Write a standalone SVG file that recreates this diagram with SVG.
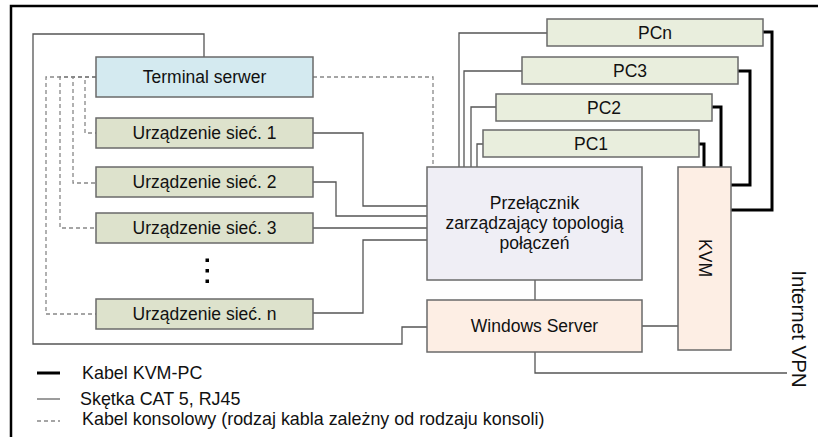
<svg xmlns="http://www.w3.org/2000/svg" width="818" height="437" viewBox="0 0 818 437">
<style>
text{font-family:"Liberation Sans",Arial,sans-serif;font-size:17.5px;fill:#111}
.c{text-anchor:middle}
.lg{font-size:17.9px}
.box{stroke:#6a6a6a;stroke-width:1.5}
.ts{fill:#d4eaf0}
.dev{fill:#dde2cc}
.pc{fill:#e9eedd}
.sw{fill:#efeef5}
.pe{fill:#fdeee4}
.thin{fill:none;stroke:#555;stroke-width:1.3}
.dash{fill:none;stroke:#888;stroke-width:1.3;stroke-dasharray:4,3}
.thick{fill:none;stroke:#000;stroke-width:3}
</style>
<rect width="818" height="437" fill="#fff"/>
<path d="M11,437 V6 H818" fill="none" stroke="#000" stroke-width="2.5"/>
<g id="connectors">
<path class="thin" d="M204,57 V34 H33 V344 H402 V327 H427"/>
<path class="thin" d="M313,133 H363 V206 H427"/>
<path class="thin" d="M313,182 H336 V216 H427"/>
<path class="thin" d="M313,228 H427"/>
<path class="thin" d="M313,313 H363 V240 H427"/>
<path class="thin" d="M459,167 V33 H547"/>
<path class="thin" d="M464,167 V71 H522"/>
<path class="thin" d="M471,167 V107 H496"/>
<path class="thin" d="M477,167 V144 H483"/>
<path class="thin" d="M535,280 V300"/>
<path class="thin" d="M535,352 V373 H787"/>
<path class="thin" d="M642,326 H678"/>
<path class="dash" d="M313,77 H433 V167"/>
<path class="dash" d="M96,77 H85 V133 H96"/>
<path class="dash" d="M96,77 H73 V183 H96"/>
<path class="dash" d="M96,77 H60 V228 H96"/>
<path class="dash" d="M96,77 H46 V314 H96"/>
<path class="thick" d="M699,144 H704 V167"/>
<path class="thick" d="M712,107 H721 V167"/>
<path class="thick" d="M738,71 H750 V185 H731"/>
<path class="thick" d="M763,32 H772 V210 H731"/>
</g>
<g id="terminal-serwer"><rect class="box ts" x="96" y="57" width="217" height="40"/><text class="c" x="204.5" y="83">Terminal serwer</text></g>
<g id="urzadzenie-1"><rect class="box dev" x="96" y="118" width="217" height="30"/><text class="c" x="204.5" y="139">Urządzenie sieć. 1</text></g>
<g id="urzadzenie-2"><rect class="box dev" x="96" y="167" width="217" height="30"/><text class="c" x="204.5" y="188">Urządzenie sieć. 2</text></g>
<g id="urzadzenie-3"><rect class="box dev" x="96" y="213" width="217" height="30"/><text class="c" x="204.5" y="234">Urządzenie sieć. 3</text></g>
<g id="dots" fill="#000"><rect x="205.5" y="258.5" width="3.5" height="3.5"/><rect x="205.5" y="269" width="3.5" height="3.5"/><rect x="205.5" y="279.5" width="3.5" height="3.5"/></g>
<g id="urzadzenie-n"><rect class="box dev" x="96" y="299" width="217" height="30"/><text class="c" x="204.5" y="320">Urządzenie sieć. n</text></g>
<g id="pcn"><rect class="box pc" x="547" y="19" width="216" height="27"/><text class="c" x="655" y="39">PCn</text></g>
<g id="pc3"><rect class="box pc" x="522" y="57" width="216" height="27"/><text class="c" x="630" y="77">PC3</text></g>
<g id="pc2"><rect class="box pc" x="496" y="94" width="216" height="27"/><text class="c" x="604" y="114">PC2</text></g>
<g id="pc1"><rect class="box pc" x="483" y="130" width="216" height="27"/><text class="c" x="591" y="150">PC1</text></g>
<g id="przelacznik"><rect class="box sw" x="427" y="167" width="215" height="113"/><text class="c" x="534.5" y="209">Przełącznik</text><text class="c" x="534.5" y="229">zarządzający topologią</text><text class="c" x="534.5" y="249">połączeń</text></g>
<g id="windows-server"><rect class="box pe" x="427" y="300" width="215" height="52"/><text class="c" x="534.5" y="332">Windows Server</text></g>
<g id="kvm"><rect class="box pe" x="678" y="167" width="53" height="183"/><text class="c" transform="translate(699,258) rotate(90)">KVM</text></g>
<g id="internet-vpn"><text class="c" style="font-size:20.5px" transform="translate(792,329) rotate(90)">Internet VPN</text></g>
<g id="legend">
<line class="thick" x1="37" y1="373" x2="60" y2="373"/>
<text class="lg" x="82" y="379">Kabel KVM-PC</text>
<line x1="37" y1="399" x2="60" y2="399" stroke="#666" stroke-width="1.3"/>
<text class="lg" x="80" y="405">Skętka CAT 5, RJ45</text>
<line class="dash" x1="37" y1="421" x2="60" y2="421"/>
<text class="lg" x="82" y="425">Kabel konsolowy (rodzaj kabla zależny od rodzaju konsoli)</text>
</g>
</svg>
